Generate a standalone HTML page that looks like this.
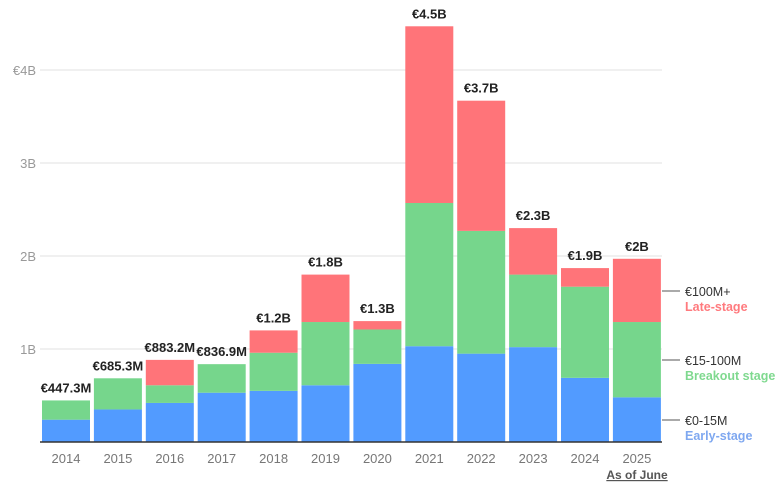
<!DOCTYPE html>
<html><head><meta charset="utf-8"><style>
body{margin:0;background:#fff;width:782px;height:490px;overflow:hidden;font-family:"Liberation Sans",sans-serif}
svg text{font-family:"Liberation Sans",sans-serif}
</style></head><body>
<svg id="chart" width="782" height="490" xmlns="http://www.w3.org/2000/svg"></svg>
<script>
const years=["2014","2015","2016","2017","2018","2019","2020","2021","2022","2023","2024","2025"];
const early=[0.24,0.35,0.42,0.53,0.55,0.61,0.84,1.03,0.95,1.02,0.69,0.48];
const breakout=[0.207,0.335,0.19,0.307,0.41,0.68,0.37,1.54,1.32,0.78,0.98,0.81];
const late=[0,0,0.273,0,0.24,0.51,0.09,1.90,1.40,0.50,0.20,0.68];
const totalLabels=["€447.3M","€685.3M","€883.2M","€836.9M","€1.2B","€1.8B","€1.3B","€4.5B","€3.7B","€2.3B","€1.9B","€2B"];
const yTicks=[1,2,3,4];
const yTickLabels=["1B","2B","3B","€4B"];
const NS="http://www.w3.org/2000/svg";
const svg=document.getElementById('chart');
const y0=442,pxPerB=93.0,x0=66,step=51.9,bw=48;
const Y=v=>y0-v*pxPerB;
const X=i=>x0+i*step;
function el(t,a,txt){const e=document.createElementNS(NS,t);for(const k in a)e.setAttribute(k,a[k]);if(txt!=null)e.textContent=txt;svg.appendChild(e);return e;}
yTicks.forEach((t,i)=>{
 const g=el('line',{x1:40,x2:662,y1:Y(t),y2:Y(t),stroke:'#e2e2e2','stroke-width':1});
 
 
 const l=el('text',{x:36,y:Y(t)+5,'text-anchor':'end','font-size':13,fill:'#999'},yTickLabels[i]);
 
 
});
const cols=["#529bff","#76d68c","#ff7479"];
years.forEach((yr,i)=>{
 const cx=X(i);let base=0;
 [early,breakout,late].forEach((s,j)=>{
  const v=s[i];if(v<=0)return;
  const r=el('rect',{x:cx-bw/2,y:Y(base+v),width:bw,height:v*pxPerB,fill:cols[j]});
  
  
  base+=v;
 });
 const t=el('text',{x:cx,y:Y(base)-8,'text-anchor':'middle','font-size':13,'font-weight':'bold',fill:'#222'},totalLabels[i]);
 
 
 const xl=el('text',{x:cx,y:463,'text-anchor':'middle','font-size':13,fill:'#777'},yr);
 
 
});
const b=el('line',{x1:40,x2:662,y1:y0,y2:y0,stroke:'#333','stroke-width':1.5});


const n=el('text',{x:637,y:479,'text-anchor':'middle','font-size':12,'font-weight':'bold',fill:'#555','text-decoration':'underline'},'As of June');


const leg=[[291,"€100M+","Late-stage","#ff7a7e"],[360,"€15-100M","Breakout stage","#7fd98f"],[420,"€0-15M","Early-stage","#7fa8f0"]];
leg.forEach(([yy,a,bb,c])=>{
 const ln=el('line',{x1:662,x2:680,y1:yy,y2:yy,stroke:'#555','stroke-width':1});
 
 
 const t1=el('text',{x:685,y:yy+5,'font-size':12.5,fill:'#333'},a);
 
 
 const t2=el('text',{x:685,y:yy+20,'font-size':12.5,'font-weight':'bold',fill:c},bb);
 
 
});
</script>
</body></html>
